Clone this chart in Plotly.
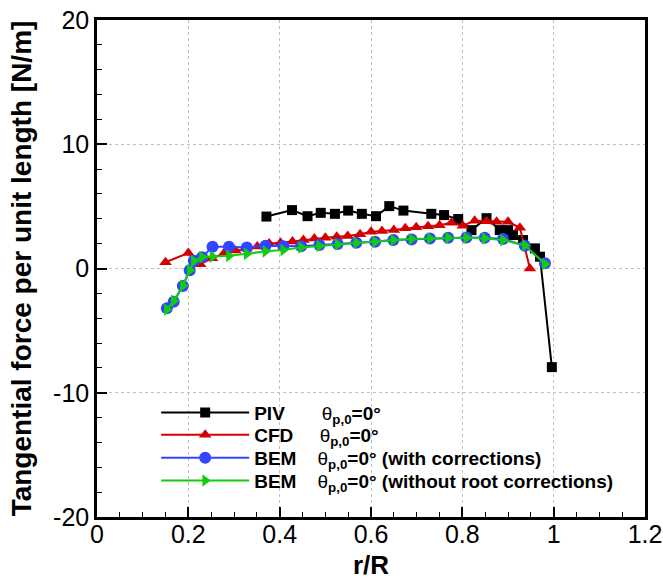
import plotly.graph_objects as go

# Radial stations r/R and tangential force per unit length [N/m]
piv_r = [0.371, 0.427, 0.461, 0.490, 0.521, 0.550, 0.580, 0.611, 0.640, 0.671,
         0.732, 0.760, 0.791, 0.820, 0.853, 0.882, 0.900, 0.911, 0.933, 0.959,
         0.970, 0.996]
piv_f = [4.18, 4.70, 4.21, 4.48, 4.40, 4.66, 4.40, 4.21, 5.02, 4.66,
         4.40, 4.30, 3.98, 3.09, 4.05, 3.09, 3.09, 2.69, 2.29, 1.62,
         0.95, -7.94]

cfd_r = [0.150, 0.200, 0.226, 0.252, 0.278, 0.303, 0.327, 0.351, 0.377, 0.402,
         0.428, 0.452, 0.476, 0.500, 0.525, 0.549, 0.576, 0.600, 0.624, 0.650,
         0.675, 0.699, 0.725, 0.750, 0.776, 0.801, 0.827, 0.853, 0.875, 0.900,
         0.926, 0.948]
cfd_f = [0.50, 1.25, 0.35, 0.82, 1.22, 1.45, 1.60, 1.78, 2.02, 2.07,
         2.18, 2.29, 2.42, 2.48, 2.56, 2.61, 2.75, 2.96, 3.01, 3.09,
         3.23, 3.31, 3.41, 3.49, 3.68, 3.44, 3.85, 3.80, 3.76, 3.76,
         3.28, 0.00]

bem_r = [0.153, 0.168, 0.188, 0.203, 0.212, 0.230, 0.253, 0.289, 0.328, 0.369,
         0.408, 0.447, 0.487, 0.527, 0.568, 0.609, 0.649, 0.689, 0.729, 0.769,
         0.809, 0.849, 0.889, 0.937, 0.981]
bem_f = [-3.20, -2.67, -1.41, -0.15, 0.62, 0.90, 1.75, 1.75, 1.70, 1.83,
         1.80, 1.80, 1.89, 1.97, 2.07, 2.15, 2.29, 2.34, 2.42, 2.47,
         2.49, 2.47, 2.37, 1.83, 0.42]

bem_nr_r = bem_r
bem_nr_f = [-3.30, -2.60, -1.38, -0.15, 0.60, 0.92, 0.95, 1.02, 1.18, 1.38,
            1.49, 1.70, 1.81, 1.94, 2.07, 2.15, 2.29, 2.37, 2.42, 2.47,
            2.47, 2.42, 2.29, 1.86, 0.36]

x_ticks = [0, 0.2, 0.4, 0.6, 0.8, 1, 1.2]
x_tick_text = ["0", "0.2", "0.4", "0.6", "0.8", "1", "1.2"]
y_ticks = [-20, -10, 0, 10, 20]
y_tick_text = ["-20", "-10", "0", "10", "20"]

theta = "θ<sub><b>p,0</b></sub><b>=0°</b>"
nb = "\u00a0"
names = [
    "<b>PIV</b>" + nb * 7 + theta,
    "<b>CFD</b>" + nb * 5 + theta,
    "<b>BEM</b>" + nb * 4 + theta + "<b> (with corrections)</b>",
    "<b>BEM</b>" + nb * 4 + theta + "<b> (without root corrections)</b>",
]

FONT = "Liberation Sans, Arial"

fig = go.Figure()
fig.add_trace(go.Scatter(x=piv_r, y=piv_f, mode="lines+markers", name=names[0],
                         legend="legend",
                         line=dict(color="black", width=2),
                         marker=dict(symbol="square", size=10, color="black")))
fig.add_trace(go.Scatter(x=cfd_r, y=cfd_f, mode="lines+markers", name=names[1],
                         legend="legend2",
                         line=dict(color="#d40000", width=2),
                         marker=dict(symbol="triangle-up", size=11, color="#d40000")))
fig.add_trace(go.Scatter(x=bem_r, y=bem_f, mode="lines+markers", name=names[2],
                         legend="legend3",
                         line=dict(color="#3344ff", width=2),
                         marker=dict(symbol="circle", size=12, color="#3344ff")))
fig.add_trace(go.Scatter(x=bem_nr_r, y=bem_nr_f, mode="lines+markers", name=names[3],
                         legend="legend4",
                         line=dict(color="#11cc11", width=2),
                         marker=dict(symbol="triangle-right", size=11, color="#11cc11")))

axis_common = dict(
    showline=True, linecolor="black", linewidth=2.5, mirror=True,
    ticks="inside", ticklen=10, tickwidth=2, tickcolor="black",
    showgrid=True, gridcolor="#c0c0c0", griddash="dot", gridwidth=1,
    zeroline=False, automargin=False,
    tickfont=dict(family=FONT, size=25, color="black"),
)

fig.update_xaxes(
    range=[0, 1.2], tickvals=x_ticks, ticktext=x_tick_text,
    ticklabelstandoff=-7,
    minor=dict(dtick=0.05, ticks="inside", ticklen=5, tickwidth=1, tickcolor="black",
               showgrid=False),
    title=dict(text="<b>r/R</b>", font=dict(family=FONT, size=26, color="black"),
               standoff=10),
    **axis_common,
)
fig.update_yaxes(
    range=[-20, 20], tickvals=y_ticks, ticktext=y_tick_text,
    minor=dict(dtick=2, ticks="inside", ticklen=5, tickwidth=1, tickcolor="black",
               showgrid=False),
    title=dict(text="<b>Tangential force per unit length [N/m]</b>",
               font=dict(family=FONT, size=28, color="black"), standoff=14),
    **axis_common,
)

# One legend box per series so each row sits at its own height
legend_rows = [0.2098, 0.165, 0.1187, 0.0731]
legend_common = dict(x=0.108, xanchor="left", yanchor="middle",
                     bgcolor="rgba(0,0,0,0)", itemwidth=88, tracegroupgap=0,
                     font=dict(family=FONT, size=19, color="black"))

fig.update_layout(
    width=663, height=582,
    margin=dict(l=97, r=18, t=20, b=65),
    paper_bgcolor="white", plot_bgcolor="white",
    showlegend=True,
    legend=dict(y=legend_rows[0], **legend_common),
    legend2=dict(y=legend_rows[1], **legend_common),
    legend3=dict(y=legend_rows[2], **legend_common),
    legend4=dict(y=legend_rows[3], **legend_common),
)

fig.write_html("out.html")
